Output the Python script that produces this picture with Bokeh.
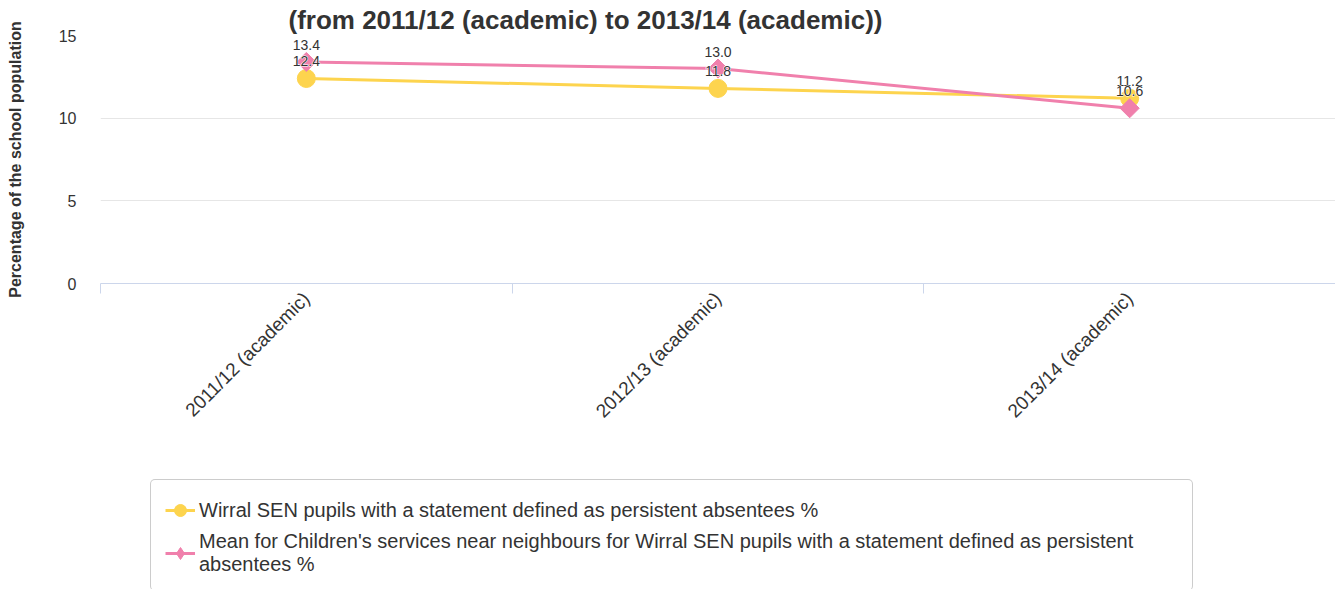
import math
from bokeh.plotting import figure
from bokeh.layouts import column
from bokeh.models import (Range1d, LinearAxis, FixedTicker, Legend,
                          LegendItem, Title, ColumnDataSource)
from bokeh.embed import file_html
from bokeh.resources import INLINE
from bokeh.core.properties import value

# ---------------- data ----------------
categories = ["2011/12 (academic)", "2012/13 (academic)", "2013/14 (academic)"]
wirral = [12.4, 11.8, 11.2]
neighbours = [13.4, 13.0, 10.6]
wirral_name = "Wirral SEN pupils with a statement defined as persistent absentees %"
neigh_name = ("Mean for Children's services near neighbours for Wirral SEN pupils "
              "with a statement defined as persistent\nabsentees %")
y_ticks = [0, 5, 10, 15]
title_text = "(from 2011/12 (academic) to 2013/14 (academic))"
y_label = "Percentage of the school population"

# ---------------- style ----------------
YELLOW = "#fdd44e"
PINK = "#f080ac"
TXT = "#333333"
FONT = "Liberation Sans"

n = len(categories)
xpos = [i + 0.5 for i in range(n)]          # category centres
bounds = list(range(n + 1))                  # category boundaries

W = 1335
H_CHART, H_LEG = 470, 119
LEFT = 100
p = figure(width=W, height=H_CHART,
           x_range=Range1d(0, n), y_range=Range1d(0, 15),
           x_axis_location=None,
           output_backend="svg", toolbar_location=None,
           min_border_left=LEFT, min_border_right=0, min_border_top=35,
           min_border_bottom=H_CHART - 283)
p.outline_line_color = None
p.background_fill_color = "white"
p.border_fill_color = "white"

# title
p.add_layout(Title(text=title_text, align="left", offset=188, standoff=2,
                   text_font=FONT, text_font_size="26px", text_font_style="bold",
                   text_color=TXT), "above")

# grid
p.xgrid.grid_line_color = None
p.ygrid.grid_line_color = "#e6e6e6"
p.ygrid.grid_line_width = 1

# y axis
p.yaxis.ticker = FixedTicker(ticks=y_ticks)
p.yaxis.axis_line_color = None
p.yaxis.major_tick_line_color = None
p.yaxis.minor_tick_line_color = None
p.yaxis.major_tick_out = 0
p.yaxis.major_tick_in = 0
p.yaxis.major_label_standoff = 24
p.yaxis.major_label_text_font = FONT
p.yaxis.major_label_text_font_size = "16px"
p.yaxis.major_label_text_color = TXT
p.yaxis.axis_label = y_label
p.yaxis.axis_label_text_font = FONT
p.yaxis.axis_label_text_font_size = "16px"
p.yaxis.axis_label_text_font_style = "bold"
p.yaxis.axis_label_text_color = TXT
p.yaxis.axis_label_standoff = 32

# boundary ticks axis (axis line + tick marks)
tick_axis = LinearAxis(ticker=FixedTicker(ticks=bounds),
                       major_label_overrides={b: "" for b in bounds},
                       major_label_text_font_size="1px",
                       axis_line_color="#ccd6eb", axis_line_width=1,
                       major_tick_line_color="#ccd6eb", major_tick_in=0, major_tick_out=10,
                       minor_tick_line_color=None, major_label_standoff=0)
# category label axis
cat_axis = LinearAxis(ticker=FixedTicker(ticks=xpos),
                      major_label_overrides={x: c for x, c in zip(xpos, categories)},
                      axis_line_color=None, major_tick_line_color=None,
                      minor_tick_line_color=None, major_tick_in=0, major_tick_out=0,
                      major_label_orientation=math.pi / 4,
                      major_label_text_font=FONT, major_label_text_font_size="19px",
                      major_label_text_color=TXT, major_label_standoff=2)
p.add_layout(tick_axis, "below")
p.add_layout(cat_axis, "below")

# series
src_w = ColumnDataSource(dict(x=xpos, y=wirral, t=[f"{v:.1f}" for v in wirral]))
src_n = ColumnDataSource(dict(x=xpos, y=neighbours, t=[f"{v:.1f}" for v in neighbours]))

p.line("x", "y", source=src_w, line_color=YELLOW, line_width=3)
p.scatter("x", "y", source=src_w, marker="circle", size=18, fill_color=YELLOW, line_color=YELLOW)
p.line("x", "y", source=src_n, line_color=PINK, line_width=3)
p.scatter("x", "y", source=src_n, marker="square", angle=math.pi / 4, size=13.5,
          fill_color=PINK, line_color=PINK)

for src in (src_w, src_n):
    # white halo, then the label itself
    p.text("x", "y", text="t", source=src, y_offset=-17,
           text_align="center", text_baseline="middle",
           text_font=value(FONT), text_font_size="14px", text_color="white",
           text_outline_color="white")
    p.text("x", "y", text="t", source=src, y_offset=-17,
           text_align="center", text_baseline="middle",
           text_font=value(FONT), text_font_size="14px", text_color=TXT)

# ---------------- legend strip ----------------
q = figure(width=W, height=H_LEG, x_range=Range1d(0, n), y_range=Range1d(0, 15),
           x_axis_location=None, y_axis_location=None,
           output_backend="svg", toolbar_location=None,
           min_border_left=LEFT, min_border_right=0, min_border_top=0, min_border_bottom=0)
q.outline_line_color = None
q.xgrid.grid_line_color = None
q.ygrid.grid_line_color = None
qlw = q.line("x", "y", source=src_w, line_color=YELLOW, line_width=3, visible=False)
qsw = q.scatter("x", "y", source=src_w, marker="circle", size=18, fill_color=YELLOW,
                line_color=YELLOW, visible=False)
qln = q.line("x", "y", source=src_n, line_color=PINK, line_width=3, visible=False)
qsn = q.scatter("x", "y", source=src_n, marker="diamond", size=18,
                fill_color=PINK, line_color=PINK, visible=False)

legend = Legend(items=[LegendItem(label=wirral_name, renderers=[qlw, qsw]),
                       LegendItem(label=neigh_name, renderers=[qln, qsn])],
                location=(50, -2), orientation="vertical", margin=0,
                label_text_font=FONT, label_text_font_size="20px", label_text_color=TXT,
                glyph_width=30, glyph_height=32, label_standoff=4, label_width=979,
                padding=14, spacing=4, border_line_color="#999999", border_line_width=1,
                background_fill_color="white", background_fill_alpha=1)
try:
    legend.border_radius = 5
except Exception:
    pass
q.add_layout(legend, "center")

page = column(p, q, spacing=0)
open("out.html", "w").write(file_html(page, INLINE))
